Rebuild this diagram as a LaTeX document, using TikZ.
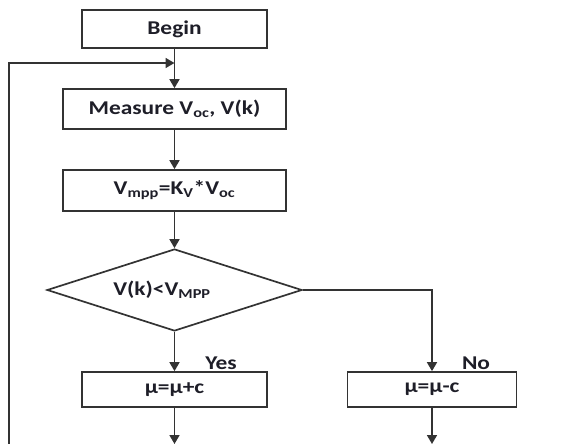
\documentclass[tikz,border=0pt]{standalone}
\usepackage{fontspec}
\setmainfont{Carlito}
\newfontfamily\lbl[FakeStretch=1.2]{Carlito}
\usetikzlibrary{arrows.meta,shapes.geometric}
\definecolor{ln}{HTML}{333333}
\definecolor{tx}{HTML}{1E1E28}
\tikzset{
  stepbox/.style={draw=ln, line width=1.7pt, rectangle, inner sep=0pt, text=tx,
    font=\lbl\bfseries\fontsize{19.5}{21}\selectfont},
  decbox/.style={draw=ln, line width=1.7pt, diamond, aspect=3.1, inner sep=0pt,
    minimum width=255pt, minimum height=82pt, text=tx,
    font=\lbl\bfseries\fontsize{19.5}{21}\selectfont},
  lab/.style={text=tx, font=\lbl\bfseries\fontsize{19.5}{21}\selectfont, inner sep=0pt},
  flow/.style={draw=ln, line width=1.7pt, -{Triangle[length=9pt,width=10pt]}},
  plain/.style={draw=ln, line width=1.7pt}
}
\begin{document}
\begin{tikzpicture}[x=1pt,y=-1pt]
\useasboundingbox (0,0) rectangle (574,444);
\node[stepbox, minimum width=185pt, minimum height=38pt] (begin) at (174.5,29) {Begin};
\node[stepbox, minimum width=223pt, minimum height=40pt] (meas) at (174.5,109) {Measure V\textsubscript{oc}, V(k)};
\node[stepbox, minimum width=223pt, minimum height=41pt] (vmpp) at (174.5,190.5) {V\textsubscript{mpp}=K\textsubscript{V}*V\textsubscript{oc}};
\node[decbox] (dec) at (174.5,290) {V(k)<V\textsubscript{MPP}\hspace*{25pt}};
\node[stepbox, minimum width=185pt, minimum height=35pt] (inc) at (174.5,389.5) {μ=μ+c};
\node[stepbox, minimum width=169pt, minimum height=35pt] (decr) at (432,389.5) {μ=μ-c};
\node[lab] (yes) at (221,363) {Yes};
\node[lab] (no) at (476,363) {No};
\coordinate (join) at (174.5,63);
\coordinate (corner) at (432,290);
\coordinate (endA) at (174.5,444);
\coordinate (endB) at (432,444);
\coordinate (loopB) at (9,444);
\coordinate (loopT) at (9,63);
\draw[flow] (begin.south) -- (meas.north);
\draw[flow] (meas.south) -- (vmpp.north);
\draw[flow] (vmpp.south) -- (dec.north);
\draw[flow] (dec.south) -- (inc.north);
\draw[flow] (dec.east) -- (corner) -- (decr.north);
\draw[flow] (inc.south) -- (endA);
\draw[flow] (decr.south) -- (endB);
\draw[flow] (loopB) -- (loopT) -- (join);
\end{tikzpicture}
\end{document}
